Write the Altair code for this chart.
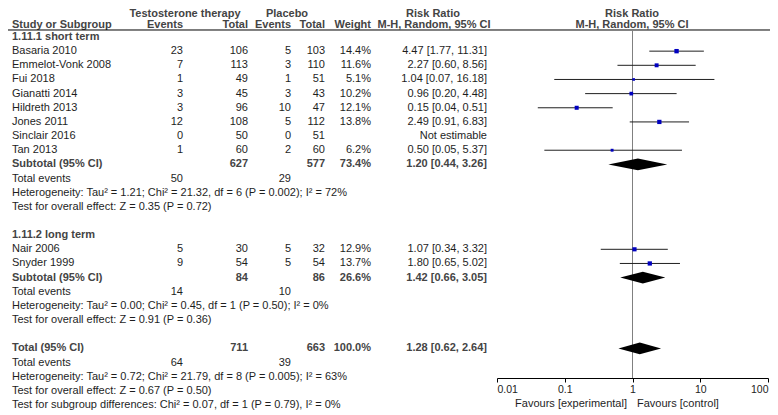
import altair as alt
import pandas as pd

# ---------------- data ----------------
group_titles = ["1.11.1 short term", "1.11.2 long term"]
studies = ["Basaria 2010", "Emmelot-Vonk 2008", "Fui 2018", "Gianatti 2014", "Hildreth 2013",
           "Jones 2011", "Sinclair 2016", "Tan 2013", "Nair 2006", "Snyder 1999"]
study_group = [0, 0, 0, 0, 0, 0, 0, 0, 1, 1]
tt_events = [23, 7, 1, 3, 3, 12, 0, 1, 5, 9]
tt_total = [106, 113, 49, 45, 96, 108, 50, 60, 30, 54]
pl_events = [5, 3, 1, 3, 10, 5, 0, 2, 5, 5]
pl_total = [103, 110, 51, 43, 47, 112, 51, 60, 32, 54]
weights = [14.4, 11.6, 5.1, 10.2, 12.1, 13.8, None, 6.2, 12.9, 13.7]
rr = [4.47, 2.27, 1.04, 0.96, 0.15, 2.49, None, 0.50, 1.07, 1.80]
rr_lo = [1.77, 0.60, 0.07, 0.20, 0.04, 0.91, None, 0.05, 0.34, 0.65]
rr_hi = [11.31, 8.56, 16.18, 4.48, 0.51, 6.83, None, 5.37, 3.32, 5.02]

summary_labels = ["Subtotal (95% CI)", "Subtotal (95% CI)", "Total (95% CI)"]
sum_tt_total = [627, 84, 711]
sum_pl_total = [577, 86, 663]
sum_weight = [73.4, 26.6, 100.0]
sum_rr = [1.20, 1.42, 1.28]
sum_lo = [0.44, 0.66, 0.62]
sum_hi = [3.26, 3.05, 2.64]
sum_tt_events = [50, 14, 64]
sum_pl_events = [29, 10, 39]
heterogeneity = [
    "Heterogeneity: Tau\u00b2 = 1.21; Chi\u00b2 = 21.32, df = 6 (P = 0.002); I\u00b2 = 72%",
    "Heterogeneity: Tau\u00b2 = 0.00; Chi\u00b2 = 0.45, df = 1 (P = 0.50); I\u00b2 = 0%",
    "Heterogeneity: Tau\u00b2 = 0.72; Chi\u00b2 = 21.79, df = 8 (P = 0.005); I\u00b2 = 63%",
]
overall_effect = [
    "Test for overall effect: Z = 0.35 (P = 0.72)",
    "Test for overall effect: Z = 0.91 (P = 0.36)",
    "Test for overall effect: Z = 0.67 (P = 0.50)",
]
subgroup_test = "Test for subgroup differences: Chi\u00b2 = 0.07, df = 1 (P = 0.79), I\u00b2 = 0%"
axis_ticks = [0.01, 0.1, 1, 10, 100]
favours = ["Favours [experimental]", "Favours [control]"]

# ---------------- layout ----------------
W, H = 762, 370
Y_TOP, Y_BOT = -2.049, 24.092
H1, H2, ULINE = -1.625, -0.883, -0.495
FAV = 25.93
COLX = {"study": 4, "tt_ev": 175, "tt_tot": 240, "pl_ev": 283, "pl_tot": 317, "wt": 363, "rr": 479}
FONT = "Liberation Sans"

cells = []      # row, x, text, halign, bold
points = []     # study forest rows
diam = []       # diamond polygons


def cell(row, col, text, bold=False, align=None, x=None):
    if align is None:
        align = "left" if col == "study" else "right"
    cells.append(dict(row=row, x=COLX[col] if x is None else x, text=str(text), halign=align, bold=bold))


def fmt_ci(e, lo, hi):
    return f"{e:.2f} [{lo:.2f}, {hi:.2f}]"


r = 0
summary_rows = []
for g, title in enumerate(group_titles):
    cell(r, "study", title, bold=True)
    r += 1
    for i, s in enumerate(studies):
        if study_group[i] != g:
            continue
        cell(r, "study", s)
        cell(r, "tt_ev", tt_events[i])
        cell(r, "tt_tot", tt_total[i])
        cell(r, "pl_ev", pl_events[i])
        cell(r, "pl_tot", pl_total[i])
        if rr[i] is None:
            cell(r, "rr", "Not estimable")
        else:
            cell(r, "wt", f"{weights[i]:.1f}%")
            cell(r, "rr", fmt_ci(rr[i], rr_lo[i], rr_hi[i]))
            points.append(dict(row=r, rr=rr[i], lo=rr_lo[i], hi=rr_hi[i], w=weights[i]))
        r += 1
    summary_rows.append(r)
    r += 1
    cell(r, "study", "Total events"); cell(r, "tt_ev", sum_tt_events[g]); cell(r, "pl_ev", sum_pl_events[g]); r += 1
    cell(r, "study", heterogeneity[g]); r += 1
    cell(r, "study", overall_effect[g]); r += 1
    r += 1
summary_rows.append(r)
r += 1
cell(r, "study", "Total events"); cell(r, "tt_ev", sum_tt_events[2]); cell(r, "pl_ev", sum_pl_events[2]); r += 1
cell(r, "study", heterogeneity[2]); r += 1
cell(r, "study", overall_effect[2]); r += 1
cell(r, "study", subgroup_test)

HALF = 0.42
for k, sr in enumerate(summary_rows):
    cell(sr, "study", summary_labels[k], bold=True)
    cell(sr, "tt_tot", sum_tt_total[k], bold=True)
    cell(sr, "pl_tot", sum_pl_total[k], bold=True)
    cell(sr, "wt", f"{sum_weight[k]:.1f}%", bold=True)
    cell(sr, "rr", fmt_ci(sum_rr[k], sum_lo[k], sum_hi[k]), bold=True)
    diam += [dict(id=k, x=sum_lo[k], y1=sr, y2=sr),
             dict(id=k, x=sum_rr[k], y1=sr - HALF, y2=sr + HALF),
             dict(id=k, x=sum_hi[k], y1=sr, y2=sr)]

# headers
cell(H1, "study", "Testosterone therapy", bold=True, align="center", x=177)
cell(H1, "study", "Placebo", bold=True, align="center", x=279)
cell(H1, "study", "Risk Ratio", bold=True, align="center", x=425)
cell(H1, "study", "Risk Ratio", bold=True, align="center", x=624)
cell(H2, "study", "Study or Subgroup", bold=True)
cell(H2, "tt_ev", "Events", bold=True)
cell(H2, "tt_tot", "Total", bold=True)
cell(H2, "pl_ev", "Events", bold=True)
cell(H2, "pl_tot", "Total", bold=True)
cell(H2, "wt", "Weight", bold=True)
cell(H2, "study", "M-H, Random, 95% CI", bold=True, align="center", x=426)
cell(H2, "study", "M-H, Random, 95% CI", bold=True, align="center", x=624)
# favours labels
cell(FAV, "study", favours[0], align="right", x=619)
cell(FAV, "study", favours[1], align="left", x=629)

cells_df = pd.DataFrame(cells)
pts_df = pd.DataFrame(points)
diam_df = pd.DataFrame(diam)

yscale = alt.Scale(domain=[Y_TOP, Y_BOT], reverse=True, nice=False, zero=False)
xlin = alt.Scale(domain=[0, W], nice=False, zero=False)
xlog = alt.Scale(type="log", domain=[0.01, 100], range=[489, 760], nice=False)


def Y(field):
    return alt.Y(field, type="quantitative", scale=yscale, axis=None)


layers = []
for align in ["left", "right", "center"]:
    for bold in [False, True]:
        sub = cells_df[(cells_df["halign"] == align) & (cells_df["bold"] == bold)]
        if len(sub) == 0:
            continue
        layers.append(
            alt.Chart(sub).mark_text(
                align=align, baseline="middle", font=FONT, fontSize=11,
                fontWeight="bold" if bold else "normal",
                color="#444444" if bold else "#1e1e1e",
            ).encode(x=alt.X("x:Q", scale=xlin, axis=None), y=Y("row"), text="text:N")
        )

# header underline
line_df = pd.DataFrame({"x": [0], "x2": [W], "row": [ULINE]})
layers.append(
    alt.Chart(line_df).mark_rule(color="#000", strokeWidth=1).encode(
        x=alt.X("x:Q", scale=xlin, axis=None), x2="x2:Q", y=Y("row"))
)

# vertical line of no effect
null_df = pd.DataFrame({"x": [1], "r0": [ULINE], "r1": [Y_BOT]})
layers.append(
    alt.Chart(null_df).mark_rule(color="#808080", strokeWidth=1).encode(
        x=alt.X("x:Q", scale=xlog, axis=None), y=Y("r0"), y2="r1:Q")
)

# CI lines with the log axis
layers.append(
    alt.Chart(pts_df).mark_rule(color="#202020", strokeWidth=1).encode(
        x=alt.X("lo:Q", scale=xlog, axis=alt.Axis(
            orient="bottom", values=axis_ticks, format="~g", labelFlush=True, tickSize=4,
            domainColor="#000", tickColor="#000", labelColor="#222", labelFont=FONT,
            labelFontSize=10.5, labelPadding=2, grid=False, title=None, labelAngle=0)),
        x2="hi:Q", y=Y("row"))
)

# squares
layers.append(
    alt.Chart(pts_df).mark_square(color="#0000c0", opacity=1, filled=True).encode(
        x=alt.X("rr:Q", scale=xlog, axis=None), y=Y("row"),
        size=alt.Size("w:Q", scale=alt.Scale(domain=[0, 15], range=[0, 20]), legend=None))
)

# diamonds
layers.append(
    alt.Chart(diam_df).mark_area(color="#000", orient="vertical", opacity=1).encode(
        x=alt.X("x:Q", scale=xlog, axis=None), y=Y("y1"), y2="y2:Q", detail="id:N")
)

chart = alt.layer(*layers).resolve_scale(x="independent").properties(
    width=W, height=H, autosize="none",
    padding={"left": 0, "top": 0, "right": 0, "bottom": 37},
    background="white",
).configure_view(stroke=None)

chart.save("out.html", embed_options={"renderer": "svg", "actions": False})
